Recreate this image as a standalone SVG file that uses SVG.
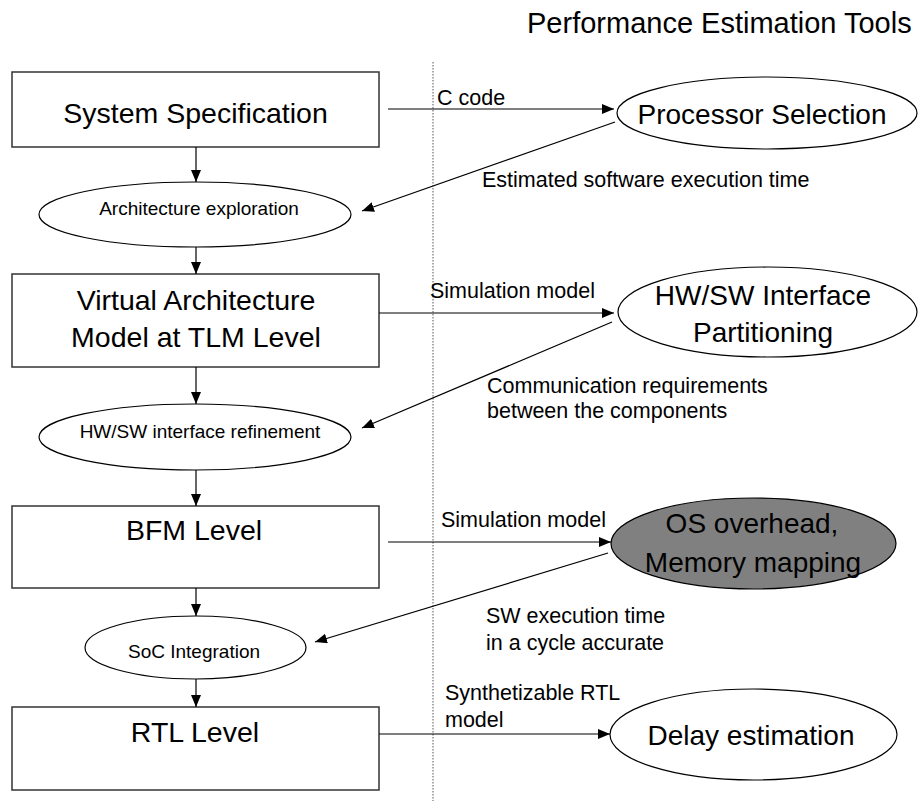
<svg xmlns="http://www.w3.org/2000/svg" width="918" height="801" viewBox="0 0 918 801">
<style>
.box{fill:#fff;stroke:#333;stroke-width:1.5}
.ell{fill:#fff;stroke:#000;stroke-width:1.2}
.gray{fill:#808080;stroke:#000;stroke-width:1.2}
.ln{fill:none;stroke:#000;stroke-width:1.2;marker-end:url(#ah)}
.big{font-family:"Liberation Sans",Arial,sans-serif;font-size:28.5px;text-anchor:middle;fill:#000}
.mid{font-family:"Liberation Sans",Arial,sans-serif;font-size:19px;text-anchor:middle;fill:#000}
.lab{font-family:"Liberation Sans",Arial,sans-serif;font-size:21.5px;fill:#000}
</style>
<defs>
<marker id="ah" markerUnits="userSpaceOnUse" markerWidth="13" markerHeight="11" refX="12" refY="5" orient="auto">
<path d="M0,0 L12,5 L0,10 Z" fill="#000"/>
</marker>
</defs>
<rect width="918" height="801" fill="#fff"/>
<text class="lab" x="527" y="33" style="font-size:29px">Performance Estimation Tools</text>
<line x1="433" y1="62" x2="433" y2="801" stroke="#555" stroke-width="1" stroke-dasharray="1.5,1.5"/>

<g id="sysspec"><rect class="box" x="12" y="72" width="367" height="75"/><text class="big" x="195.5" y="123">System Specification</text></g>
<g id="archexp"><ellipse class="ell" cx="195" cy="214.5" rx="156" ry="32.5"/><text class="mid" x="199" y="215">Architecture exploration</text></g>
<g id="vam"><rect class="box" x="12" y="274" width="367" height="93"/><text class="big" x="196" y="310">Virtual Architecture</text><text class="big" x="196" y="347">Model at TLM Level</text></g>
<g id="hwswref"><ellipse class="ell" cx="195" cy="437" rx="156" ry="33"/><text class="mid" x="200" y="438">HW/SW interface refinement</text></g>
<g id="bfm"><rect class="box" x="12" y="506" width="367" height="82"/><text class="big" x="194" y="540">BFM Level</text></g>
<g id="soc"><ellipse class="ell" cx="195.5" cy="647.5" rx="110.5" ry="31.5"/><text class="mid" x="194" y="658">SoC Integration</text></g>
<g id="rtl"><rect class="box" x="12" y="707" width="367" height="83"/><text class="big" x="195" y="742">RTL Level</text></g>

<g id="procsel"><ellipse class="ell" cx="767" cy="113" rx="150" ry="36"/><text class="big" x="762" y="124" style="font-size:28px">Processor Selection</text></g>
<g id="hwswpart"><ellipse class="ell" cx="767.5" cy="312" rx="149.5" ry="45"/><text class="big" x="763" y="305" style="font-size:28px">HW/SW Interface</text><text class="big" x="763" y="342" style="font-size:28px">Partitioning</text></g>
<g id="osmem"><ellipse class="gray" cx="753.5" cy="543.5" rx="142.5" ry="45.5"/><text class="big" x="752" y="533" style="font-size:28px">OS overhead,</text><text class="big" x="753" y="572" style="font-size:28px">Memory mapping</text></g>
<g id="delay"><ellipse class="ell" cx="753.5" cy="734.5" rx="143.5" ry="45.5"/><text class="big" x="751" y="745" style="font-size:28px">Delay estimation</text></g>

<g id="connectors">
<line class="ln" x1="196" y1="147" x2="196" y2="182"/>
<line class="ln" x1="196" y1="247" x2="196" y2="274"/>
<line class="ln" x1="196" y1="367" x2="196" y2="404"/>
<line class="ln" x1="196" y1="470" x2="196" y2="506"/>
<line class="ln" x1="196" y1="588" x2="196" y2="616"/>
<line class="ln" x1="196" y1="679" x2="196" y2="707"/>

<line class="ln" x1="388" y1="109" x2="614" y2="109"/>
<line class="ln" x1="615" y1="122" x2="362" y2="211"/>
<line class="ln" x1="379" y1="313" x2="614" y2="313"/>
<line class="ln" x1="612" y1="322" x2="362" y2="428"/>
<line class="ln" x1="388" y1="542" x2="611" y2="542"/>
<line class="ln" x1="608" y1="553" x2="315" y2="642"/>
<line class="ln" x1="379" y1="734" x2="610" y2="734"/>

<text class="lab" x="437" y="105">C code</text>
<text class="lab" x="482" y="187">Estimated software execution time</text>
<text class="lab" x="430" y="298">Simulation model</text>
<text class="lab" x="487" y="393">Communication requirements</text>
<text class="lab" x="487" y="418">between the components</text>
<text class="lab" x="441" y="527">Simulation model</text>
<text class="lab" x="486" y="623">SW execution time</text>
<text class="lab" x="486" y="650">in a cycle accurate</text>
<text class="lab" x="445" y="700">Synthetizable RTL</text>
<text class="lab" x="445" y="727">model</text>
</g>
</svg>
